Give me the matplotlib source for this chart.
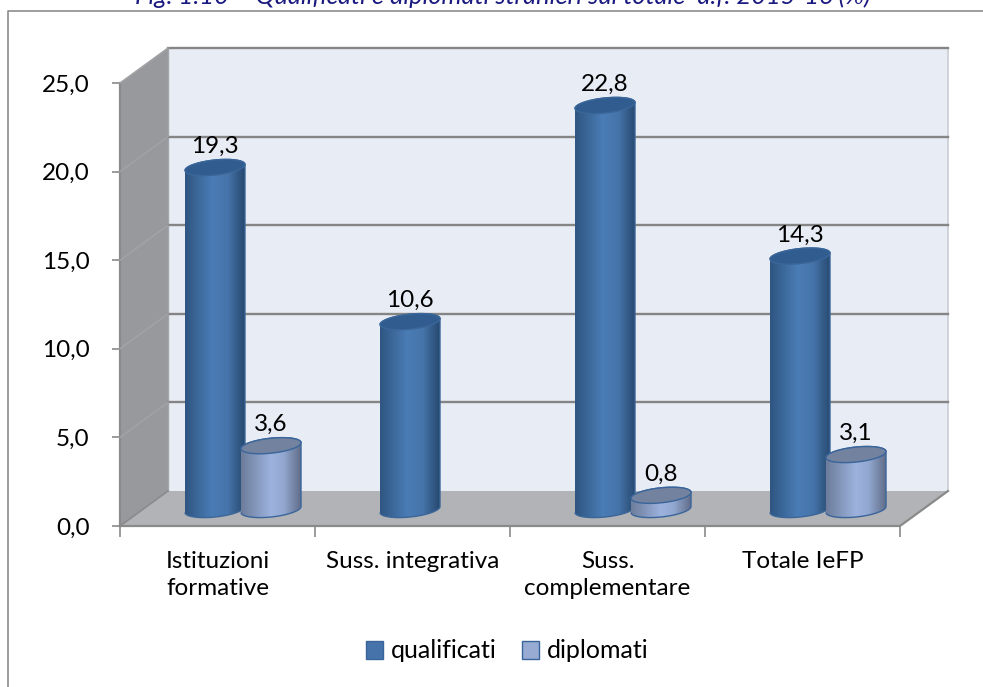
import numpy as np
import matplotlib
matplotlib.use('Agg')
import matplotlib.pyplot as plt
from matplotlib.colors import LinearSegmentedColormap
from matplotlib.lines import Line2D
from matplotlib.patches import Patch, PathPatch, Polygon
from matplotlib.path import Path

plt.rcParams['font.family'] = ['Lato', 'DejaVu Sans']

# ================= dati =================
categories = ['Istituzioni\nformative', 'Suss. integrativa', 'Suss.\ncomplementare', 'Totale IeFP']
qualificati = [19.3, 10.6, 22.8, 14.3]
diplomati = [3.6, None, 0.8, 3.1]
y_ticks = [0, 5, 10, 15, 20, 25]
y_labels = ['0,0', '5,0', '10,0', '15,0', '20,0', '25,0']
title = 'Fig. 1.10 \u2013 Qualificati e diplomati stranieri sul totale  a.f. 2015-16 (%)'

# ================= geometria (pixel -> unita' degli assi) =================
W, H = 983, 687
PX_X = 195.0    # pixel per categoria
PX_Y = 443 / 25 # pixel per unita' di valore
DX = 48 / PX_X  # profondita' del box 3D
DY = 35 / PX_Y
FS = 17.5

fig = plt.figure(figsize=(W / 100, H / 100), dpi=100)
ax = fig.add_axes([120 / W, (H - 526) / H, 780 / W, 443 / H])
ax.set_xlim(0, 4)
ax.set_ylim(0, 25)
ax.patch.set_visible(False)
for s in ax.spines.values():
    s.set_visible(False)

GRAY = '#8a8a8a'

# pareti e pavimento
ax.add_patch(Polygon([(DX, DY), (4 + DX, DY), (4 + DX, 25 + DY), (DX, 25 + DY)],
                     fc='#e8ecf5', ec='none', clip_on=False, zorder=1))
ax.add_patch(Polygon([(0, 0), (DX, DY), (DX, 25 + DY), (0, 25)],
                     fc='#98999c', ec='none', clip_on=False, zorder=1))
ax.add_patch(Polygon([(0, 0), (4, 0), (4 + DX, DY), (DX, DY)],
                     fc='#b2b3b6', ec='none', clip_on=False, zorder=1))
ax.plot([4 + DX, 4 + DX], [DY, 25 + DY], color='#c9cdd6', lw=1.2, clip_on=False, zorder=2)
ax.plot([DX, DX], [DY, 25 + DY], color='#a5a6aa', lw=1.0, clip_on=False, zorder=2)
ax.plot([0, 0], [0, 25], color=GRAY, lw=1.6, clip_on=False, zorder=2)
ax.plot([0, 4, 4 + DX], [0, 0, DY], color=GRAY, lw=1.6, clip_on=False, zorder=2)
ax.plot([0, DX], [0, DY], color=GRAY, lw=1.2, clip_on=False, zorder=2)

# griglia
for v in y_ticks[1:]:
    ax.plot([DX, 4 + DX], [v + DY, v + DY], color='#858585', lw=1.7, clip_on=False, zorder=2)
    ax.plot([0, DX], [v, v + DY], color='#a3a3a6', lw=1.1, clip_on=False, zorder=2)

# ================= cilindri =================
cmap_q = LinearSegmentedColormap.from_list('q', [(0, '#2f5682'), (0.45, '#4a7cb5'), (0.72, '#4674aa'), (1, '#27496f')])
cmap_d = LinearSegmentedColormap.from_list('d', [(0, '#6d7d9b'), (0.5, '#9db3de'), (0.72, '#92a7cf'), (1, '#626f8b')])

BASE = 16.5 / PX_Y   # centro della base sopra il bordo anteriore
RY = 7.5 / PX_Y      # semiasse verticale dell'ellisse
TILT = 3.0 / PX_Y    # inclinazione dell'ellisse
BAR_W = 60 / PX_X
t = np.linspace(0, 2 * np.pi, 121)


def ellipse(xc, yc):
    return xc + BAR_W / 2 * np.cos(t), yc + RY * np.sin(t) + TILT * np.cos(t)


def cylinder(x0, val, cmap, top_col, edge, z):
    xc = x0 + BAR_W / 2
    y_top = val + BASE
    # contorno: meta' inferiore della base + lati + meta' superiore del coperchio
    ex_b, ey_b = ellipse(xc, BASE)
    ex_t, ey_t = ellipse(xc, y_top)
    low = t >= np.pi
    up = t <= np.pi
    xs = np.r_[ex_b[low], ex_t[up]]
    ys = np.r_[ey_b[low], ey_t[up]]
    body = PathPatch(Path(np.c_[xs, ys]), fc='none', ec=edge, lw=1.0, clip_on=False, zorder=z + 0.2)
    ax.add_patch(body)
    im = ax.imshow(np.linspace(0, 1, 64)[None, :], cmap=cmap, aspect='auto', zorder=z,
                   extent=[x0, x0 + BAR_W, 0, y_top + RY + TILT], interpolation='bilinear')
    im.set_clip_path(Path(np.c_[xs, ys]), ax.transData)
    ax.fill(ex_t, ey_t, fc=top_col, ec=edge, lw=1.0, clip_on=False, zorder=z + 0.3)
    ax.text(xc, y_top + 21 / PX_Y, f'{val:.1f}'.replace('.', ','), ha='center', va='center',
            fontsize=FS, color='black', zorder=10)


for i in range(len(categories)):
    cylinder(i + 65 / PX_X, qualificati[i], cmap_q, '#305c90', '#3a6699', 4)
    if diplomati[i] is not None:
        cylinder(i + 121 / PX_X, diplomati[i], cmap_d, '#72829f', '#3a659b', 5)

ax.set_xlim(0, 4)
ax.set_ylim(0, 25)

# ================= assi =================
ax.set_yticks(y_ticks)
ax.set_yticklabels(y_labels, fontsize=FS)
ax.tick_params(axis='y', length=5.8, width=1.2, color=GRAY, pad=16)
ax.set_xticks(range(5))
ax.set_xticklabels([])
ax.set_xticks(np.arange(4) + 0.5, labels=categories, minor=True, fontsize=FS, linespacing=1.38)
ax.tick_params(axis='x', which='major', length=8, width=1.2, color=GRAY)
ax.tick_params(axis='x', which='minor', length=0, pad=18)

# legenda
handles = [Patch(fc='#4674aa', ec='#3a659b', label='qualificati'),
           Patch(fc='#97abd3', ec='#3a659b', label='diplomati')]
fig.legend(handles=handles, loc='center', bbox_to_anchor=(507 / W, 1 - 651 / H), ncol=2, frameon=False,
           fontsize=18, handlelength=0.7, handleheight=0.7, handletextpad=0.3, columnspacing=1.0)

# cornice del grafico e titolo tagliato
fig.add_artist(Line2D([7.5 / W, 7.5 / W, 1], [0, 1 - 10.5 / H, 1 - 10.5 / H], color='#8c8c8c', lw=1.2))
fig.text(503 / W, 1 - 4 / H, title, ha='center', va='baseline', fontsize=18.3, style='italic', color='#1a1a80')

plt.savefig('out.png', dpi=100)
